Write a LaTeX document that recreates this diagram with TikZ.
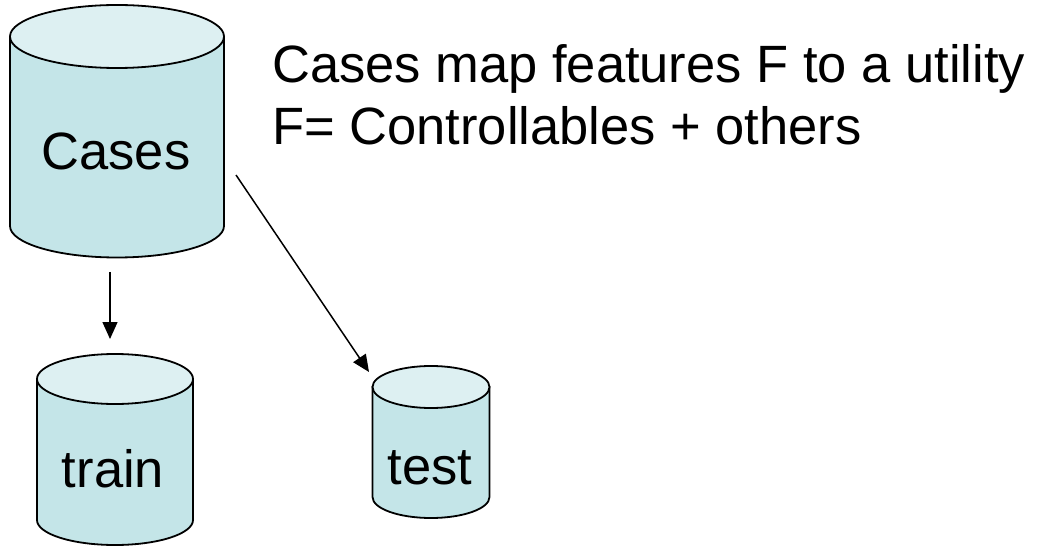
\documentclass[tikz,border=0pt]{standalone}
\usepackage{fontspec}
\setmainfont{Liberation Sans}
\usetikzlibrary{arrows.meta}
\definecolor{canbody}{RGB}{196,229,232}
\definecolor{cantop}{RGB}{221,240,242}
\tikzset{
  canline/.style={draw=black, line width=1.8pt},
  label/.style={inner sep=0pt, font=\fontsize{52.5}{62}\selectfont},
  flow/.style={draw=black, line width=1.5pt, -{Triangle[length=17pt,width=15pt]}}
}
% \drum{cx}{top y}{rx}{ry}{bottom y}
\newcommand\drum[5]{%
  \path[canline, fill=canbody]
    (#1-#3,#2) -- (#1-#3,#5) arc[start angle=180,end angle=360,x radius=#3,y radius=-#4]
    -- (#1+#3,#2) -- cycle;
  \path[canline, fill=cantop] (#1,#2) ellipse[x radius=#3,y radius=#4];
}
\begin{document}
\begin{tikzpicture}[x=1pt,y=-1pt]
  \useasboundingbox (0,0) rectangle (1042,556);
  \drum{117}{36.5}{107}{31.5}{226}
  \drum{115}{379}{78}{25}{520}
  \drum{431}{387}{58.5}{21}{497}

  \node[label, anchor=base] (cases) at (116,170) {Cases};
  \node[label, anchor=base] (train) at (113,487) {train};
  \node[label, anchor=base] (test) at (430,484) {test};

  % the base anchor of a two-line node sits on its last line
  \node[label, anchor=base west, align=left] (note) at (272,145)
    {Cases map features F to a utility\\F= Controllables + others};

  \coordinate (casesOut) at (110,272);
  \coordinate (trainIn) at (110,339);
  \coordinate (casesSide) at (236,175);
  \coordinate (testIn) at (369,372);

  \draw[flow] (casesOut) -- (trainIn);
  \draw[flow] (casesSide) -- (testIn);
\end{tikzpicture}
\end{document}
